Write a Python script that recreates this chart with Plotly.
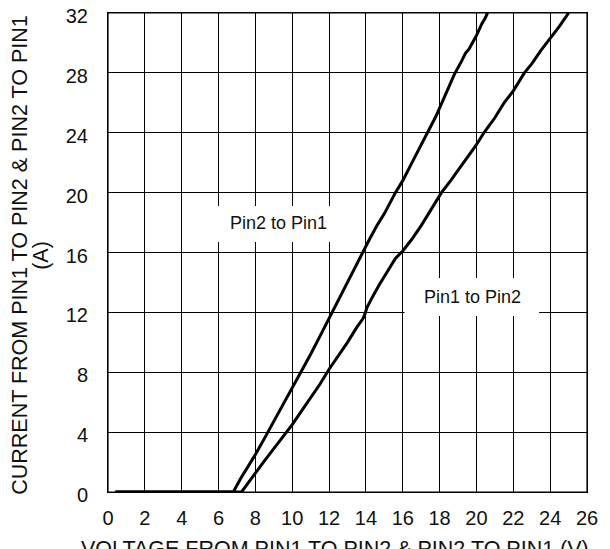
import plotly.graph_objects as go

# Pin2 to Pin1 curve (steeper)
v_pin2_pin1 = [0.4, 6.8, 7.2, 7.6, 8.0, 8.5, 9.0, 9.5, 10.0, 10.5, 11.0, 11.5, 12.0, 12.5,
               13.0, 13.5, 13.8, 14.2, 14.6, 15.0, 15.6, 16.0, 16.5, 17.0, 17.3, 17.8,
               18.3, 18.8, 19.2, 19.4, 19.6, 20.0, 20.3, 20.45, 20.6]
i_pin2_pin1 = [0, 0, 0.9, 1.7, 2.5, 3.6, 4.7, 5.8, 6.9, 8.0, 9.2, 10.4, 11.6, 12.8,
               14.0, 15.2, 16.0, 16.9, 17.8, 18.6, 20.0, 20.8, 22.0, 23.2, 24.0, 25.1,
               26.5, 27.9, 28.8, 29.3, 29.6, 30.5, 31.3, 31.6, 32.0]

# Pin1 to Pin2 curve
v_pin1_pin2 = [0.4, 7.25, 7.6, 8.0, 8.5, 9.0, 9.5, 10.0, 10.5, 11.0, 11.5, 12.0, 12.5,
               13.0, 13.5, 13.85, 13.95, 14.05, 14.3, 14.7, 15.2, 15.6, 16.0, 16.5,
               17.0, 17.5, 18.1, 18.6, 19.0, 19.5, 20.0, 20.4, 21.0, 21.5, 22.0, 22.6,
               23.0, 23.5, 24.0, 24.5, 25.0]
i_pin1_pin2 = [0, 0, 0.6, 1.3, 2.1, 2.9, 3.7, 4.5, 5.4, 6.3, 7.2, 8.2, 9.1,
               10.0, 11.0, 11.6, 11.9, 12.3, 12.9, 13.8, 14.8, 15.6, 16.1, 16.9,
               17.8, 18.8, 20.0, 20.8, 21.5, 22.3, 23.2, 24.0, 25.0, 26.0, 26.8, 28.0,
               28.6, 29.5, 30.3, 31.1, 32.0]

x_ticks = list(range(0, 27, 2))
y_ticks = list(range(0, 33, 4))

labels = ["Pin2 to Pin1", "Pin1 to Pin2"]
x_title = "VOLTAGE FROM PIN1 TO PIN2 & PIN2 TO PIN1 (V)"
y_title_1 = "CURRENT FROM PIN1 TO PIN2 & PIN2 TO PIN1"
y_title_2 = "(A)"

FONT = "Liberation Sans, Arial, sans-serif"
TXT = "#111"

fig = go.Figure()
fig.add_trace(go.Scatter(x=v_pin2_pin1, y=i_pin2_pin1, mode="lines",
                         line=dict(color="black", width=3), showlegend=False))
fig.add_trace(go.Scatter(x=v_pin1_pin2, y=i_pin1_pin2, mode="lines",
                         line=dict(color="black", width=3), showlegend=False))

# white label boxes
fig.add_shape(type="rect", x0=5.6, x1=12.85, y0=16.7, y1=19.1, xref="x", yref="y",
              fillcolor="white", line=dict(width=0), layer="above")
fig.add_shape(type="rect", x0=16.1, x1=23.4, y0=11.75, y1=14.3, xref="x", yref="y",
              fillcolor="white", line=dict(width=0), layer="above")
# plot frame
fig.add_shape(type="rect", x0=0, x1=1, y0=0, y1=1, xref="paper", yref="paper",
              line=dict(color="black", width=1.2), fillcolor="rgba(0,0,0,0)", layer="above")

fig.add_annotation(x=9.25, y=17.95, text=labels[0], showarrow=False,
                   font=dict(family=FONT, size=18, color=TXT))
fig.add_annotation(x=19.76, y=13.05, text=labels[1], showarrow=False,
                   font=dict(family=FONT, size=18, color=TXT))

# axis titles
fig.add_annotation(x=-0.184, y=0.495, xref="paper", yref="paper", text=y_title_1,
                   textangle=-90, showarrow=False, xanchor="center", yanchor="middle",
                   font=dict(family=FONT, size=21.5, color=TXT))
fig.add_annotation(x=-0.14, y=0.495, xref="paper", yref="paper", text=y_title_2,
                   textangle=-90, showarrow=False, xanchor="center", yanchor="middle",
                   font=dict(family=FONT, size=21.5, color=TXT))
fig.add_annotation(x=0.474, y=-0.118, xref="paper", yref="paper", text=x_title,
                   showarrow=False, xanchor="center", yanchor="middle",
                   font=dict(family=FONT, size=21.5, color=TXT))

fig.update_xaxes(range=[0, 26], tickvals=x_ticks, ticktext=[str(t) for t in x_ticks],
                 showgrid=True, gridcolor="black", gridwidth=1, zeroline=False,
                 showline=True, linecolor="black", linewidth=1, mirror=True,
                 ticks="", ticklabelstandoff=8, automargin=False,
                 ticklabeloverflow="allow",
                 tickfont=dict(family=FONT, size=20, color=TXT))
fig.update_yaxes(range=[0, 32], tickvals=y_ticks, ticktext=[str(t) for t in y_ticks],
                 showgrid=True, gridcolor="black", gridwidth=1, zeroline=False,
                 showline=True, linecolor="black", linewidth=1, mirror=True,
                 ticks="", ticklabelstandoff=15, ticklabelshift=3, automargin=False,
                 ticklabeloverflow="allow",
                 tickfont=dict(family=FONT, size=20, color=TXT))

fig.update_layout(width=610, height=549, plot_bgcolor="white", paper_bgcolor="white",
                  margin=dict(l=100, r=31, t=5, b=65), showlegend=False)

fig.write_html("out.html")
